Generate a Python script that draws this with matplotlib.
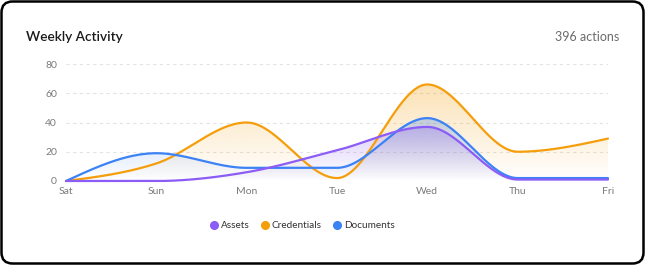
import matplotlib.pyplot as plt
import numpy as np
from matplotlib.colors import to_rgb
from matplotlib.lines import Line2D
from matplotlib.patches import FancyBboxPatch

plt.rcParams["font.family"] = ["Lato", "DejaVu Sans"]

# Chart data
days = ["Sat", "Sun", "Mon", "Tue", "Wed", "Thu", "Fri"]
assets = [0, 0, 6, 21, 37, 1, 1]
credentials = [0, 12, 40, 2, 66, 20, 29]
documents = [0, 19, 9, 9, 43, 2, 2]
series_names = ["Assets", "Credentials", "Documents"]
y_ticks = [0, 20, 40, 60, 80]
title = "Weekly Activity"
total_label = "396 actions"

colors = {"Assets": "#8b5cf6", "Credentials": "#f59e0b", "Documents": "#3b82f6"}

W, H = 645, 265


def monotone_curve(y, steps=60):
    """Monotone cubic interpolation (same idea as d3 curveMonotoneX)."""
    y = np.asarray(y, dtype=float)
    n = len(y)
    x = np.arange(n, dtype=float)
    s = np.diff(y)  # h = 1 everywhere
    t = np.zeros(n)
    for i in range(1, n - 1):
        s0, s1 = s[i - 1], s[i]
        p = (s0 + s1) / 2
        sg = (-1 if s0 < 0 else 1) + (-1 if s1 < 0 else 1)
        t[i] = sg * min(abs(s0), abs(s1), 0.5 * abs(p))
    t[0] = (3 * s[0] - t[1]) / 2
    t[-1] = (3 * s[-1] - t[-2]) / 2

    xs, ys = [], []
    u = np.linspace(0, 1, steps)
    for i in range(n - 1):
        dx = 1 / 3
        p0 = (x[i], y[i])
        p1 = (x[i] + dx, y[i] + dx * t[i])
        p2 = (x[i + 1] - dx, y[i + 1] - dx * t[i + 1])
        p3 = (x[i + 1], y[i + 1])
        b = [(1 - u) ** 3, 3 * (1 - u) ** 2 * u, 3 * (1 - u) * u ** 2, u ** 3]
        xs.append(sum(bk * pk[0] for bk, pk in zip(b, (p0, p1, p2, p3))))
        ys.append(sum(bk * pk[1] for bk, pk in zip(b, (p0, p1, p2, p3))))
    return np.concatenate(xs), np.concatenate(ys)


fig = plt.figure(figsize=(W / 100, H / 100), dpi=100)

# card background
bg = fig.add_axes([0, 0, 1, 1])
bg.set_xlim(0, W)
bg.set_ylim(0, H)
bg.axis("off")
bg.add_patch(FancyBboxPatch((1.5, 1.5), W - 3, H - 3,
                            boxstyle="round,pad=0,rounding_size=11",
                            facecolor="white", edgecolor="black", linewidth=1.8))
bg.text(26, H - 37, title, fontsize=9.8, fontweight="semibold", color="#1a1a1a",
        va="center", ha="left")
bg.text(619, H - 37, total_label, fontsize=9, color="#6b6b6b",
        va="center", ha="right")

ax = fig.add_axes([66 / W, 84 / H, 542 / W, 117 / H])
ax.patch.set_alpha(0)
ax.set_xlim(0, len(days) - 1)
ax.set_ylim(0, 80)

data = {"Assets": assets, "Credentials": credentials, "Documents": documents}

# gradient area fills
for name in ["Credentials", "Documents", "Assets"]:
    xs, ys = monotone_curve(data[name])
    poly = ax.fill_between(xs, ys, 0, facecolor="none", edgecolor="none")
    top = max(ys.max(), 1)
    grad = np.zeros((100, 2, 4))
    grad[:, :, :3] = to_rgb(colors[name])
    grad[:, :, 3] = np.linspace(0.3, 0.0, 100)[:, None]
    im = ax.imshow(grad, extent=[0, len(days) - 1, 0, top], origin="upper",
                   aspect="auto", interpolation="bilinear", zorder=1)
    im.set_clip_path(poly.get_paths()[0], transform=ax.transData)

for name in ["Credentials", "Documents", "Assets"]:
    xs, ys = monotone_curve(data[name])
    ax.plot(xs, ys, color=colors[name], lw=1.6, zorder=3, clip_on=False,
            solid_capstyle="round")

for v in y_ticks:
    ax.axhline(v, color="#e3e3e3", lw=0.8, ls=(0, (3, 3)), zorder=0)

ax.set_yticks(y_ticks)
ax.set_xticks(range(len(days)))
ax.set_xticklabels(days)
ax.tick_params(length=0, colors="#7a7a7a", labelsize=7.5)
ax.tick_params(axis="y", pad=6.5)
ax.tick_params(axis="x", pad=4)
for sp in ax.spines.values():
    sp.set_visible(False)

handles = [Line2D([], [], marker="o", ls="none", markersize=5.5,
                  markerfacecolor=colors[n], markeredgecolor=colors[n], label=n)
           for n in series_names]
leg = fig.legend(handles=handles, loc="center", bbox_to_anchor=(302 / W, (H - 226) / H),
                 ncol=3, frameon=False, fontsize=7.2, handletextpad=0.2,
                 columnspacing=1.0, handlelength=1.0)
for txt in leg.get_texts():
    txt.set_color("#333333")

fig.savefig("out.png", dpi=100)
